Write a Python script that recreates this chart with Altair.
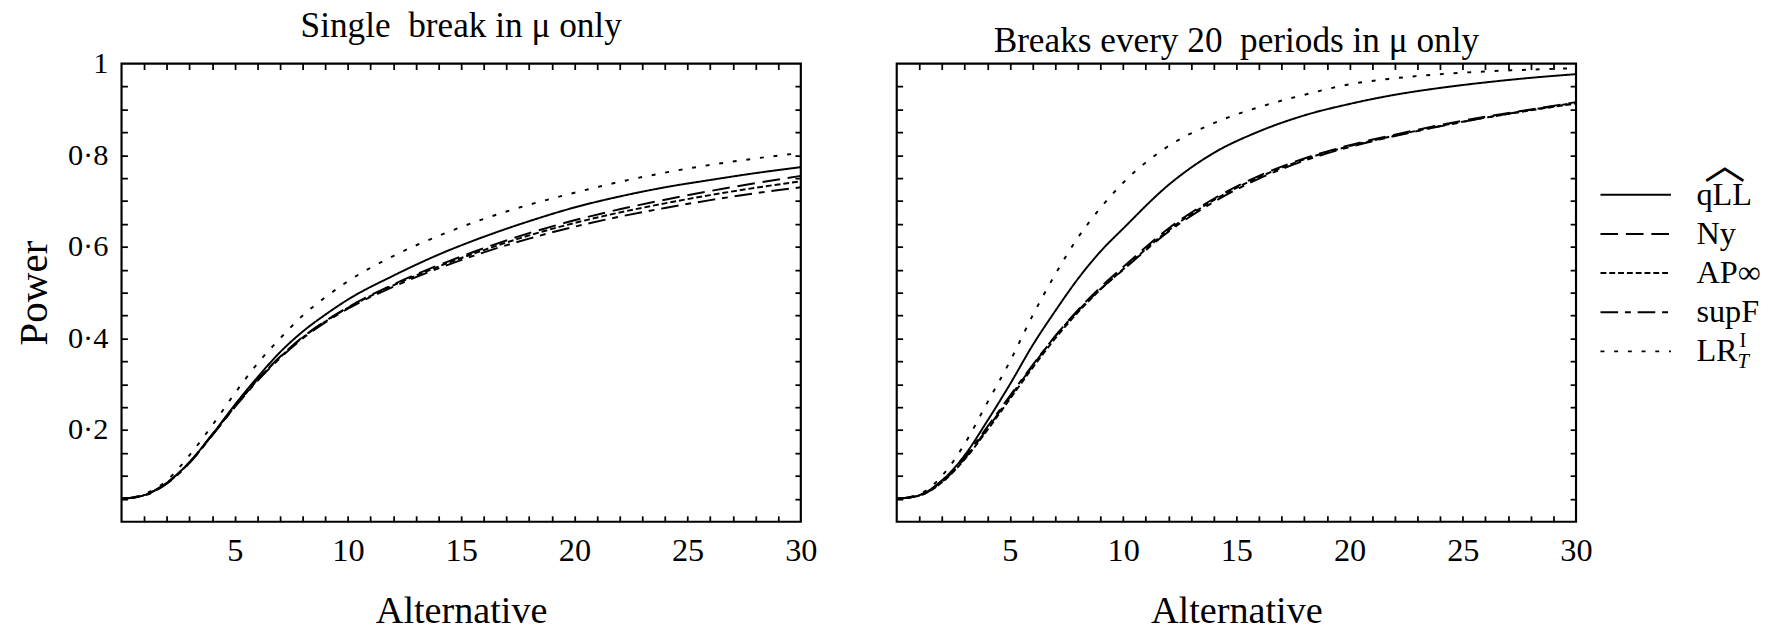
import altair as alt
import pandas as pd

# ---------------- data ----------------
X_GRID = [0, 1, 2, 3, 4, 5, 6, 7, 8, 9, 10, 12, 14, 16, 18, 20, 22, 24, 26, 28, 30]
SERIES = ["qLL", "Ny", "AP∞", "supF", "LR"]
SERIES_ORDER = [0, 1, 2, 3, 4]

# Single break in mu only
L_qLL = [0.05, 0.058, 0.085, 0.13, 0.19, 0.255, 0.315, 0.37, 0.415, 0.452, 0.485, 0.537, 0.583, 0.622, 0.656, 0.686, 0.71, 0.73, 0.746, 0.761, 0.774]
L_Ny = [0.05, 0.058, 0.085, 0.13, 0.19, 0.252, 0.31, 0.36, 0.403, 0.438, 0.468, 0.518, 0.56, 0.597, 0.63, 0.658, 0.682, 0.703, 0.722, 0.739, 0.755]
L_AP = [0.05, 0.058, 0.084, 0.129, 0.189, 0.251, 0.309, 0.359, 0.402, 0.437, 0.467, 0.516, 0.557, 0.593, 0.625, 0.652, 0.675, 0.695, 0.713, 0.729, 0.743]
L_supF = [0.05, 0.057, 0.083, 0.128, 0.188, 0.25, 0.307, 0.357, 0.4, 0.435, 0.465, 0.513, 0.553, 0.588, 0.618, 0.644, 0.666, 0.685, 0.702, 0.717, 0.73]
L_LR = [0.05, 0.06, 0.09, 0.145, 0.21, 0.28, 0.345, 0.4, 0.45, 0.49, 0.525, 0.58, 0.624, 0.661, 0.692, 0.718, 0.742, 0.762, 0.779, 0.793, 0.805]

# Breaks every 20 periods in mu only
R_qLL = [0.05, 0.058, 0.09, 0.145, 0.22, 0.3, 0.385, 0.46, 0.53, 0.59, 0.64, 0.735, 0.805, 0.852, 0.887, 0.912, 0.932, 0.947, 0.959, 0.969, 0.977]
R_Ny = [0.05, 0.057, 0.087, 0.138, 0.203, 0.272, 0.34, 0.405, 0.462, 0.512, 0.556, 0.64, 0.705, 0.755, 0.793, 0.822, 0.845, 0.866, 0.884, 0.9, 0.916]
R_AP = [0.05, 0.057, 0.086, 0.136, 0.2, 0.268, 0.336, 0.4, 0.457, 0.507, 0.551, 0.636, 0.702, 0.752, 0.791, 0.82, 0.843, 0.864, 0.882, 0.898, 0.913]
R_supF = [0.05, 0.058, 0.09, 0.142, 0.207, 0.275, 0.342, 0.405, 0.46, 0.508, 0.55, 0.633, 0.698, 0.749, 0.788, 0.818, 0.842, 0.863, 0.882, 0.899, 0.915]
R_LR = [0.05, 0.06, 0.1, 0.17, 0.26, 0.35, 0.45, 0.54, 0.62, 0.685, 0.74, 0.82, 0.87, 0.905, 0.932, 0.955, 0.968, 0.977, 0.983, 0.987, 0.99]

X_LABELS = [5, 10, 15, 20, 25, 30]
Y_LABELS = [0.2, 0.4, 0.6, 0.8, 1]
X_MINOR = list(range(1, 30))
Y_MINOR = [round(0.05 * i, 2) for i in range(1, 20)]

DASHES = [[1, 0], [18, 8], [6, 3], [18, 7, 6, 7], [4, 10]]

FONT = "Liberation Serif"
W, H = 694, 468
WIDE = " \u00a0"  # wider word gap as in the typeset titles


def make_df(vals):
    rows = []
    for name, ys in zip(SERIES, vals):
        for x, y in zip(X_GRID, ys):
            rows.append({"x": x, "y": y, "series": name})
    return pd.DataFrame(rows)


left_df = make_df([L_qLL, L_Ny, L_AP, L_supF, L_LR])
right_df = make_df([R_qLL, R_Ny, R_AP, R_supF, R_LR])

xscale = alt.Scale(domain=[0, 30], nice=False, zero=False)
yscale = alt.Scale(domain=[0, 1], nice=False)
dash_scale = alt.Scale(domain=SERIES, range=DASHES)


def tick_layer(df, ox, oy, size):
    return alt.Chart(df).mark_point(opacity=0).encode(
        x=alt.X("x:Q", scale=xscale, axis=alt.Axis(
            orient=ox, values=X_MINOR, offset=-size, tickSize=size, labels=False,
            domain=False, grid=False, title=None, tickColor="black", tickWidth=1.8,
            minExtent=0, maxExtent=0)),
        y=alt.Y("y:Q", scale=yscale, axis=alt.Axis(
            orient=oy, values=Y_MINOR, offset=-size, tickSize=size, labels=False,
            domain=False, grid=False, title=None, tickColor="black", tickWidth=1.8,
            minExtent=0, maxExtent=0)),
    )


def panel(df, title, show_y):
    if show_y:
        yaxis = alt.Axis(
            orient="left", values=Y_LABELS, tickSize=0, domain=False, grid=False,
            labelExpr="datum.value == 1 ? '1' : replace(format(datum.value, '.1f'), '.', '·')",
            labelFont=FONT, labelFontSize=31, labelColor="black", labelPadding=14,
            title="Power", titleFont=FONT, titleFontSize=42, titleFontWeight="normal",
            titleColor="black", titlePadding=12)
    else:
        yaxis = None
    lines = alt.Chart(df).mark_line(color="black", strokeWidth=2, interpolate="monotone").encode(
        x=alt.X("x:Q", scale=xscale, axis=alt.Axis(
            orient="bottom", values=X_LABELS, tickSize=0, domain=False, grid=False,
            labelFlush=False,
            labelFont=FONT, labelFontSize=33, labelColor="black", labelPadding=14,
            title="Alternative", titleFont=FONT, titleFontSize=39,
            titleFontWeight="normal", titleColor="black", titlePadding=25)),
        y=alt.Y("y:Q", scale=yscale, axis=yaxis),
        strokeDash=alt.StrokeDash("series:N", scale=dash_scale, legend=None),
        detail="series:N",
    )
    return alt.layer(
        lines,
        tick_layer(df, "bottom", "left", 6),
        tick_layer(df, "top", "right", 6),
    ).resolve_axis(x="independent", y="independent").properties(
        width=W, height=H,
        title=alt.TitleParams(title, font=FONT, fontSize=36, fontWeight="normal",
                              color="black", anchor="middle", offset=3),
        view=alt.ViewBackground(stroke="black", strokeWidth=2.2),
    )


left = panel(left_df, "Single" + WIDE + "break in μ only", True)
right = panel(right_df, "Breaks every 20" + WIDE + "periods in μ only", False)

# ---------------- manual legend ----------------
leg_df = pd.DataFrame({"series": SERIES, "order": SERIES_ORDER})
leg_y = alt.Y("order:Q", scale=alt.Scale(domain=[8.35, -3.35], nice=False, zero=False), axis=None)
leg_lines = alt.Chart(leg_df).mark_rule(color="black", strokeWidth=2).encode(
    x=alt.value(0), x2=alt.value(72), y=leg_y,
    strokeDash=alt.StrokeDash("series:N", scale=dash_scale, legend=None),
)
leg_text = alt.Chart(leg_df).mark_text(
    align="left", baseline="middle", font=FONT, fontSize=33, color="black"
).encode(x=alt.value(98), y=leg_y, text="series:N")

hat_df = leg_df[leg_df["series"] == "qLL"].assign(t="︿")
leg_hat = alt.Chart(hat_df).mark_text(
    align="center", baseline="middle", font="Noto Sans CJK JP", fontSize=42, color="black", dy=-29
).encode(x=alt.value(127), y=leg_y, text="t:N")

sup_df = leg_df[leg_df["series"] == "LR"].assign(t="I")
leg_sup = alt.Chart(sup_df).mark_text(
    align="left", baseline="middle", font=FONT, fontSize=21, color="black", dy=-11
).encode(x=alt.value(142), y=leg_y, text="t:N")
sub_df = leg_df[leg_df["series"] == "LR"].assign(t="T")
leg_sub = alt.Chart(sub_df).mark_text(
    align="left", baseline="middle", font=FONT, fontSize=21, fontStyle="italic", color="black", dy=11
).encode(x=alt.value(140), y=leg_y, text="t:N")

legend = alt.layer(leg_lines, leg_text, leg_hat, leg_sup, leg_sub).properties(
    width=160, height=H, view=alt.ViewBackground(strokeOpacity=0)
)

chart = alt.hconcat(
    alt.hconcat(left, right, spacing=74),
    legend,
    spacing=6,
).configure_view(strokeOpacity=0).configure(padding={"left": 4, "top": -8, "right": 0, "bottom": 0})

chart.save("out.html", embed_options={"renderer": "svg", "actions": False})
